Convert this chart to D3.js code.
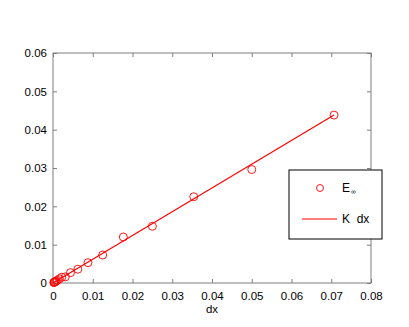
<!DOCTYPE html>
<html>
<head>
<meta charset="utf-8">
<script src="https://cdn.jsdelivr.net/npm/d3@7"></script>
<style>
body { margin: 0; background: #fff; }
text { font-family: "Liberation Sans", Arial, sans-serif; }
</style>
</head>
<body>
<svg width="409" height="327"></svg>
<script>
// error vs grid spacing
var dxVals = [0.0707, 0.05, 0.0354, 0.025, 0.0177, 0.0125, 0.0088, 0.00625, 0.0044, 0.0031, 0.0022, 0.0016, 0.0011, 0.00078, 0.00055, 0.00039, 0.00028, 0.0002];
var errVals = [0.0438, 0.0296, 0.0225, 0.0148, 0.0120, 0.0073, 0.0053, 0.0036, 0.0027, 0.0016, 0.0015, 0.0011, 0.0007, 0.0005, 0.00035, 0.00025, 0.00017, 0.00012];
var fitX = [0, 0.0707];
var fitY = [0, 0.0438];
var xTicks = [0, 0.01, 0.02, 0.03, 0.04, 0.05, 0.06, 0.07, 0.08];
var yTicks = [0, 0.01, 0.02, 0.03, 0.04, 0.05, 0.06];

var svg = d3.select("svg");
var margin = { top: 53, right: 38, bottom: 44, left: 53 };
var width = 409 - margin.left - margin.right;
var height = 327 - margin.top - margin.bottom;
var g = svg.append("g").attr("transform", "translate(" + margin.left + "," + margin.top + ")");

var x = d3.scaleLinear().domain([0, 0.08]).range([0, width]);
var y = d3.scaleLinear().domain([0, 0.06]).range([height, 0]);
var fmt = function (d) { return d === 0 ? "0" : d3.format(".2f")(d); };
var axisCol = "#7f7f7f";

// axes box
g.append("rect")
    .attr("width", width).attr("height", height)
    .attr("fill", "none").attr("stroke", axisCol).attr("stroke-width", 1);

g.append("g")
    .attr("transform", "translate(0," + height + ")")
    .call(d3.axisBottom(x).tickValues(xTicks).tickFormat(fmt).tickSizeInner(-4).tickSizeOuter(0).tickPadding(9));
g.append("g")
    .call(d3.axisLeft(y).tickValues(yTicks).tickFormat(fmt).tickSizeInner(-4).tickSizeOuter(0).tickPadding(6));
g.append("g")
    .call(d3.axisTop(x).tickValues(xTicks).tickFormat("").tickSizeInner(-4).tickSizeOuter(0));
g.append("g")
    .attr("transform", "translate(" + width + ",0)")
    .call(d3.axisRight(y).tickValues(yTicks).tickFormat("").tickSizeInner(-4).tickSizeOuter(0));

g.selectAll(".domain").remove();
g.selectAll(".tick line").attr("stroke", axisCol);
g.selectAll(".tick text").attr("fill", "#000").attr("font-size", 11.5)
    .style("font-family", "Liberation Sans, Arial, sans-serif");

g.append("text")
    .attr("x", width / 2).attr("y", height + 30)
    .attr("text-anchor", "middle").attr("font-size", 11.5)
    .text("dx");

// fit line
var line = d3.line()
    .x(function (d) { return x(d[0]); })
    .y(function (d) { return y(d[1]); });
g.append("path")
    .datum(d3.zip(fitX, fitY))
    .attr("fill", "none").attr("stroke", "#ff0000").attr("stroke-width", 1.2)
    .attr("d", line);

// points
g.selectAll("circle.pt")
    .data(d3.zip(dxVals, errVals))
    .enter().append("circle")
    .attr("class", "pt")
    .attr("cx", function (d) { return x(d[0]); })
    .attr("cy", function (d) { return y(d[1]); })
    .attr("r", 4)
    .attr("fill", "none").attr("stroke", "#ff0000").attr("stroke-width", 0.9);

// legend
var lg = svg.append("g").attr("transform", "translate(289,170)");
lg.append("rect").attr("width", 93).attr("height", 69)
    .attr("fill", "#fff").attr("stroke", "#000").attr("stroke-width", 1);
lg.append("circle").attr("cx", 31).attr("cy", 18).attr("r", 3.5)
    .attr("fill", "none").attr("stroke", "#ff0000").attr("stroke-width", 0.9);
lg.append("text").attr("x", 53).attr("y", 22).attr("font-size", 12).text("E");
lg.append("text").attr("x", 62).attr("y", 24).attr("font-size", 7).text("\u221e");
lg.append("line").attr("x1", 13).attr("x2", 48).attr("y1", 49).attr("y2", 49)
    .attr("stroke", "#ff0000").attr("stroke-width", 1.2);
lg.append("text").attr("x", 53).attr("y", 53).attr("font-size", 12).attr("xml:space", "preserve").text("K  dx");
</script>
</body>
</html>
